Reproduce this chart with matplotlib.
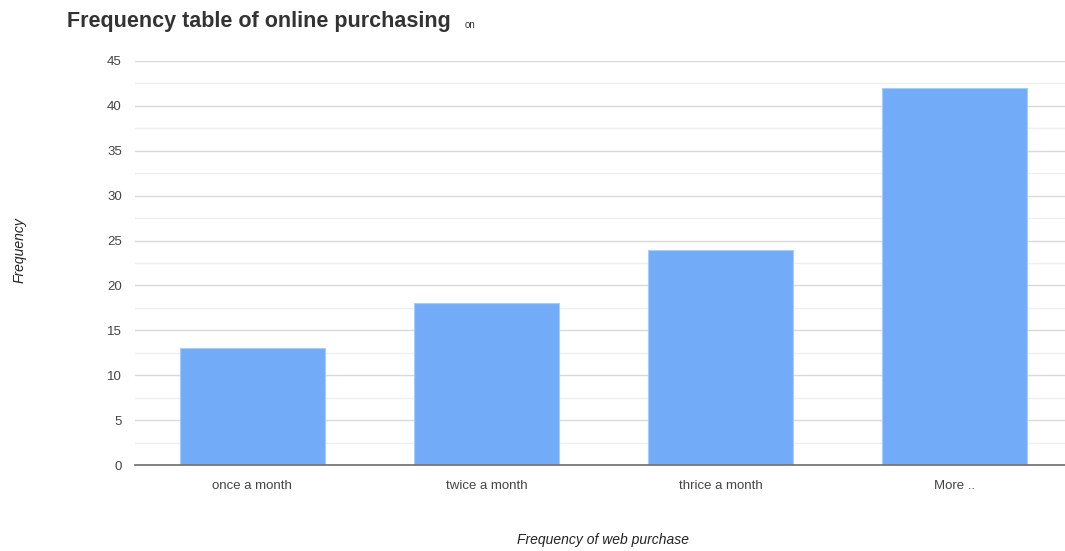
import matplotlib
matplotlib.use("Agg")
import matplotlib.pyplot as plt
from matplotlib.ticker import MultipleLocator

categories = ["once a month", "twice a month", "thrice a month", "More .."]
values = [13, 18, 24, 42]

plt.rcParams['font.family'] = ['Liberation Sans', 'DejaVu Sans']

fig = plt.figure(figsize=(10.65, 5.51), dpi=100)
ax = fig.add_axes([135/1065, (551-465)/551, 937/1065, (465-61)/551])

x = range(len(categories))
ax.bar(x, values, width=0.62, color="#72acf8", edgecolor="#a8ccfb", linewidth=0.8, zorder=3)
ax.set_xlim(-0.5, len(categories) - 0.5)
ax.set_ylim(0, 45)
ax.yaxis.set_major_locator(MultipleLocator(5))
ax.yaxis.set_minor_locator(MultipleLocator(2.5))
ax.set_xticks(list(x))
ax.set_xticklabels(categories)
ax.grid(axis='y', which='major', color="#d9d9d9", linewidth=1.0, zorder=0)
ax.grid(axis='y', which='minor', color="#efefef", linewidth=1.0, zorder=0)
for s in ['top', 'right', 'left']:
    ax.spines[s].set_visible(False)
ax.spines['bottom'].set_color("#777777")
ax.spines['bottom'].set_linewidth(1.3)
ax.spines['bottom'].set_zorder(4)
ax.tick_params(axis='both', which='both', length=0, labelsize=9.5, colors="#444444")
ax.tick_params(axis='y', pad=9.5)
ax.tick_params(axis='x', pad=10.5)

fig.text(67/1065, 1 - 21/551, "Frequency table of online purchasing", fontsize=15.5,
         fontweight='bold', color="#333333", va='center', ha='left')
fig.text(465/1065, 1 - 25/551, "on", fontsize=7, color="#333333", va='center', ha='left')
fig.text(20/1065, 1 - 250/551, "Frequency", fontsize=10, style='italic', color="#222222",
         rotation=90, va='center', ha='center')
fig.text(603/1065, 1 - 540/551, "Frequency of web purchase", fontsize=10, style='italic',
         color="#222222", va='center', ha='center')

fig.savefig("out.png", dpi=100)
